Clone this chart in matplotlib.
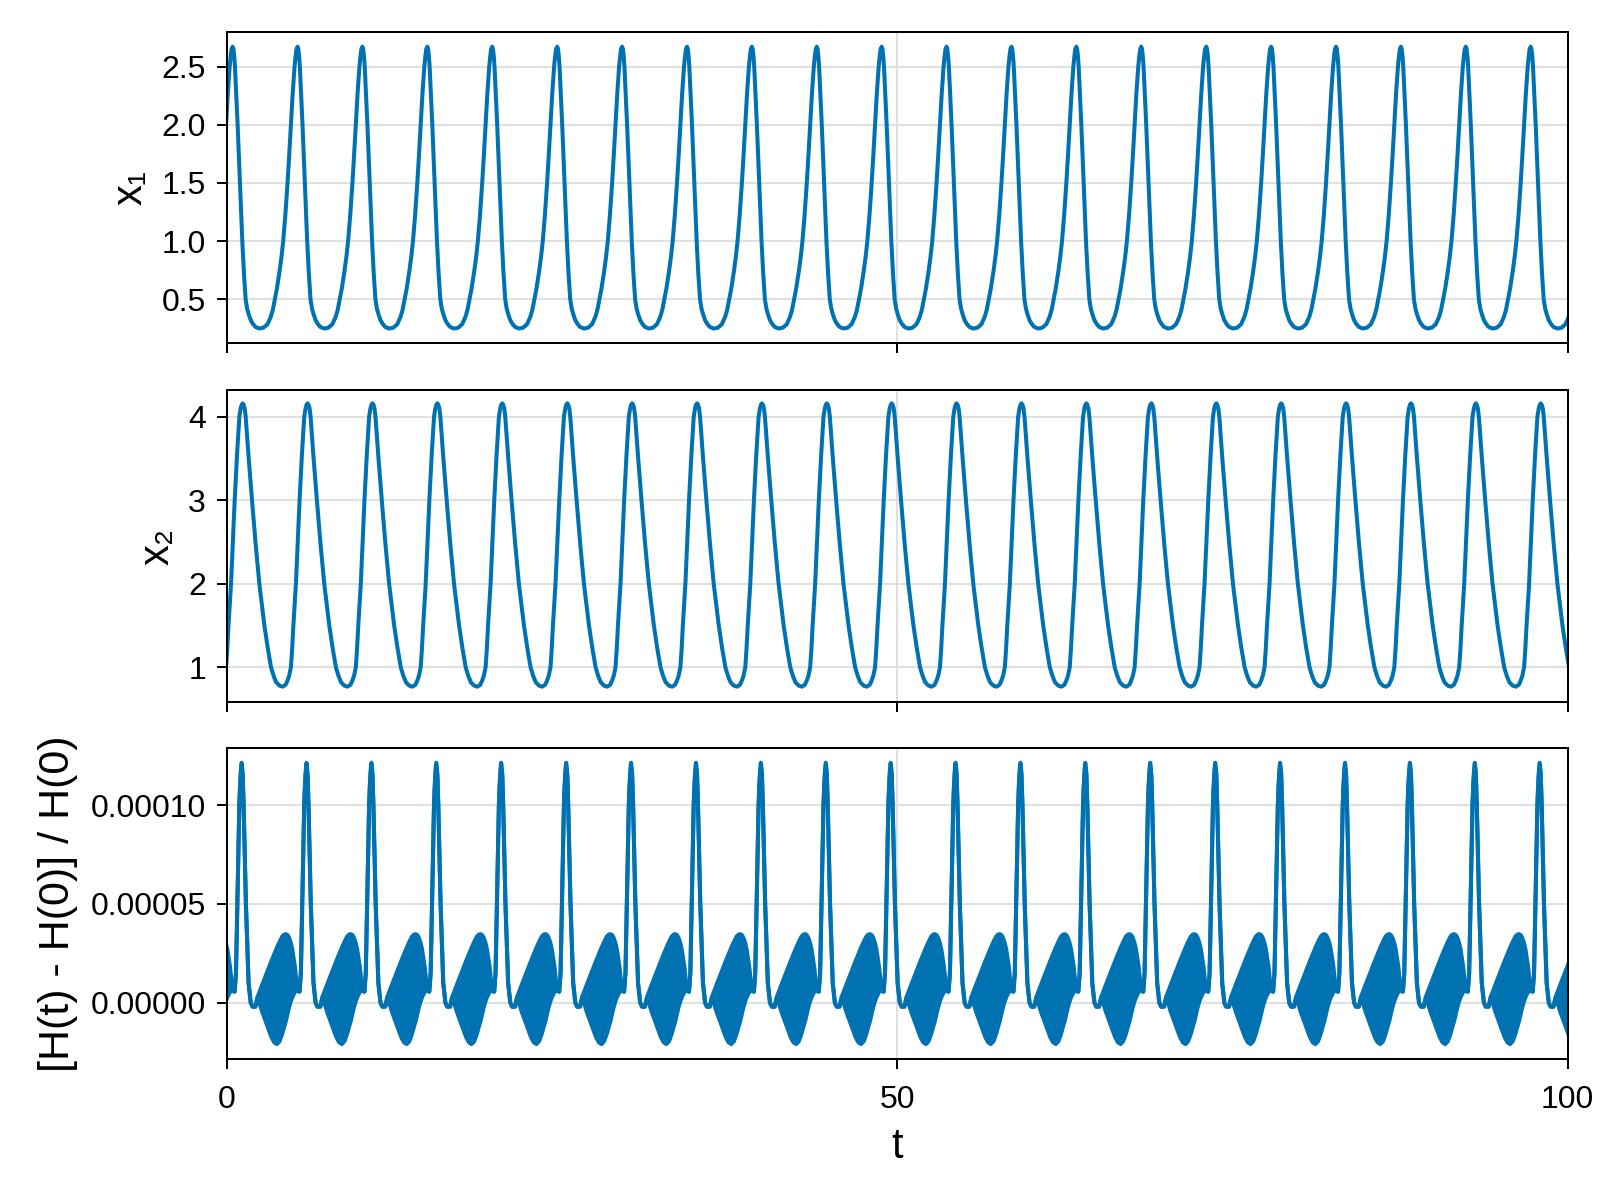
import numpy as np
import matplotlib
matplotlib.use("Agg")
import matplotlib.pyplot as plt

# ---------------- data ----------------
# times of the x1 maxima (one oscillation cycle starts at each)
peak_times = [-4.42, 0.42, 5.26, 10.10, 14.94, 19.78, 24.63, 29.47, 34.31,
              39.15, 43.99, 48.83, 53.67, 58.51, 63.35, 68.19, 73.04, 77.88,
              82.72, 87.56, 92.40, 97.24, 102.08]

# one cycle of x1 (time offset after the x1 maximum, value)
x1_dt = [0.00, 0.06, 0.12, 0.174, 0.27, 0.373, 0.46, 0.547, 0.635, 0.721,
         0.84, 0.97, 1.08, 1.20, 1.35, 1.50, 1.70, 1.99, 2.30, 2.60, 2.85,
         3.00, 3.15, 3.30, 3.50, 3.65, 3.772, 3.93, 4.095, 4.22, 4.344,
         4.48, 4.617, 4.70, 4.76]
x1_val = [2.672, 2.652, 2.59, 2.50, 2.26, 2.00, 1.75, 1.50, 1.25, 1.00,
          0.73, 0.50, 0.42, 0.37, 0.32, 0.29, 0.262, 0.248, 0.255, 0.285, 0.35,
          0.41, 0.50, 0.59, 0.74, 0.87, 1.00, 1.22, 1.50, 1.74, 2.00,
          2.27, 2.50, 2.595, 2.650]

# one cycle of x2 (time offset after the x1 maximum, value)
x2_dt = [0.00, 0.153, 0.33, 0.501, 0.60, 0.68, 0.75, 0.82, 0.90, 0.974,
         1.20, 1.446, 1.72, 1.993, 2.37, 2.62, 2.863, 3.05, 3.25, 3.50,
         3.73, 3.95, 4.091, 4.22, 4.348, 4.44, 4.531, 4.62, 4.721]
x2_val = [2.45, 3.00, 3.55, 4.00, 4.10, 4.145, 4.16, 4.145, 4.10, 4.00,
          3.50, 3.00, 2.47, 2.00, 1.50, 1.23, 1.00, 0.90, 0.82, 0.78,
          0.768, 0.79, 0.84, 0.90, 1.00, 1.22, 1.50, 1.73, 2.00]

# one cycle of the relative energy error: upper / lower envelope (units 1e-5)
h_dt = [0.00, 0.15, 0.25, 0.35, 0.50, 0.55, 0.60, 0.64, 0.67, 0.70, 0.75,
        0.82, 0.99, 1.19, 1.35, 1.49, 1.70, 1.865, 2.20, 2.60, 2.90, 3.10,
        3.30, 3.50, 3.70, 3.85, 3.97, 4.10, 4.20, 4.33, 4.45, 4.65, 4.80]
h_up = [0.60, 0.56, 1.5, 5.0, 10.0, 10.9, 11.6, 12.0, 12.14, 12.0, 11.6,
        10.0, 5.0, 1.0, 0.0, -0.2, -0.2, 0.30, 0.90, 1.60, 2.12, 2.45,
        2.78, 3.08, 3.35, 3.45, 3.47, 3.42, 3.30, 3.05, 2.70, 1.80, 0.80]
h_lo = [0.60, 0.56, 1.5, 5.0, 10.0, 10.9, 11.5, 11.8, 11.9, 11.8, 11.5,
        10.0, 5.0, 1.0, 0.0, -0.2, -0.2, 0.30, -0.45, -1.20, -1.75, -2.00,
        -2.09, -1.95, -1.57, -1.20, -0.93, -0.55, -0.25, 0.05, 0.28, 0.55, 0.72]

x_ticks = [0, 50, 100]
x_ticklabels = ["0", "50", "100"]
y1_ticks = [0.5, 1.0, 1.5, 2.0, 2.5]
y1_ticklabels = ["0.5", "1.0", "1.5", "2.0", "2.5"]
y2_ticks = [1, 2, 3, 4]
y2_ticklabels = ["1", "2", "3", "4"]
y3_ticks = [0.0, 0.00005, 0.0001]
y3_ticklabels = ["0.00000", "0.00005", "0.00010"]


def build(dts, vals):
    t = np.concatenate([p + np.asarray(dts, float) for p in peak_times])
    v = np.tile(np.asarray(vals, float), len(peak_times))
    return t, v


t1, x1 = build(x1_dt, x1_val)
t2, x2 = build(x2_dt, x2_val)
t3, hu = build(h_dt, h_up)
_, hl = build(h_dt, h_lo)
hu = hu * 1e-5
hl = hl * 1e-5

# ---------------- figure ----------------
plt.rcParams['font.family'] = ['Liberation Sans', 'DejaVu Sans']
BLUE = '#0072B2'
LW = 2.9
W, H = 1600, 1200
fig = plt.figure(figsize=(16, 12), dpi=100)

left, right = 227, 1567.7
boxes = [(31.7, 343.3), (390.0, 701.7), (748.3, 1059.3)]
axes = []
for top, bot in boxes:
    ax = fig.add_axes([left / W, 1 - bot / H, (right - left) / W, (bot - top) / H])
    axes.append(ax)

for ax in axes:
    ax.set_xlim(0, 100)
    ax.set_xticks(x_ticks)
    ax.set_xticklabels(x_ticklabels)
    ax.grid(True, color='#e0e0e0', linewidth=1.44, alpha=1.0)
    ax.set_axisbelow(True)
    for s in ax.spines.values():
        s.set_linewidth(1.44)
        s.set_color('black')
    ax.tick_params(direction='out', length=7.2, width=1.44, labelsize=23,
                   top=False, right=False)
    ax.tick_params(axis='y', pad=8)
    ax.tick_params(axis='x', pad=11)

ax1, ax2, ax3 = axes
ax1.tick_params(labelbottom=False)
ax2.tick_params(labelbottom=False)

ax1.plot(t1, x1, color=BLUE, lw=LW, solid_joinstyle='round')
ax1.set_ylim(0.121, 2.801)
ax1.set_yticks(y1_ticks)
ax1.set_yticklabels(y1_ticklabels)

ax2.plot(t2, x2, color=BLUE, lw=LW, solid_joinstyle='round')
ax2.set_ylim(0.588, 4.32)
ax2.set_yticks(y2_ticks)
ax2.set_yticklabels(y2_ticklabels)

ax3.fill_between(t3, hl, hu, color=BLUE, lw=0)
ax3.plot(t3, hu, color=BLUE, lw=LW, solid_joinstyle='round')
ax3.plot(t3, hl, color=BLUE, lw=LW, solid_joinstyle='round')
ax3.set_ylim(-2.86e-5, 1.287e-4)
ax3.set_yticks(y3_ticks)
ax3.set_yticklabels(y3_ticklabels)

fig.text(130.6 / W, 1 - 187.5 / H, "x₁", rotation=90, ha='center', va='center', fontsize=30)
fig.text(158 / W, 1 - 546 / H, "x₂", rotation=90, ha='center', va='center', fontsize=30)
fig.text(58 / W, 1 - 904 / H, "[H(t) - H(0)] / H(0)", rotation=90, ha='center', va='center', fontsize=31)
fig.text(897 / W, 1 - 1147 / H, "t", ha='center', va='center', fontsize=30)

fig.savefig("out.png", dpi=100)
